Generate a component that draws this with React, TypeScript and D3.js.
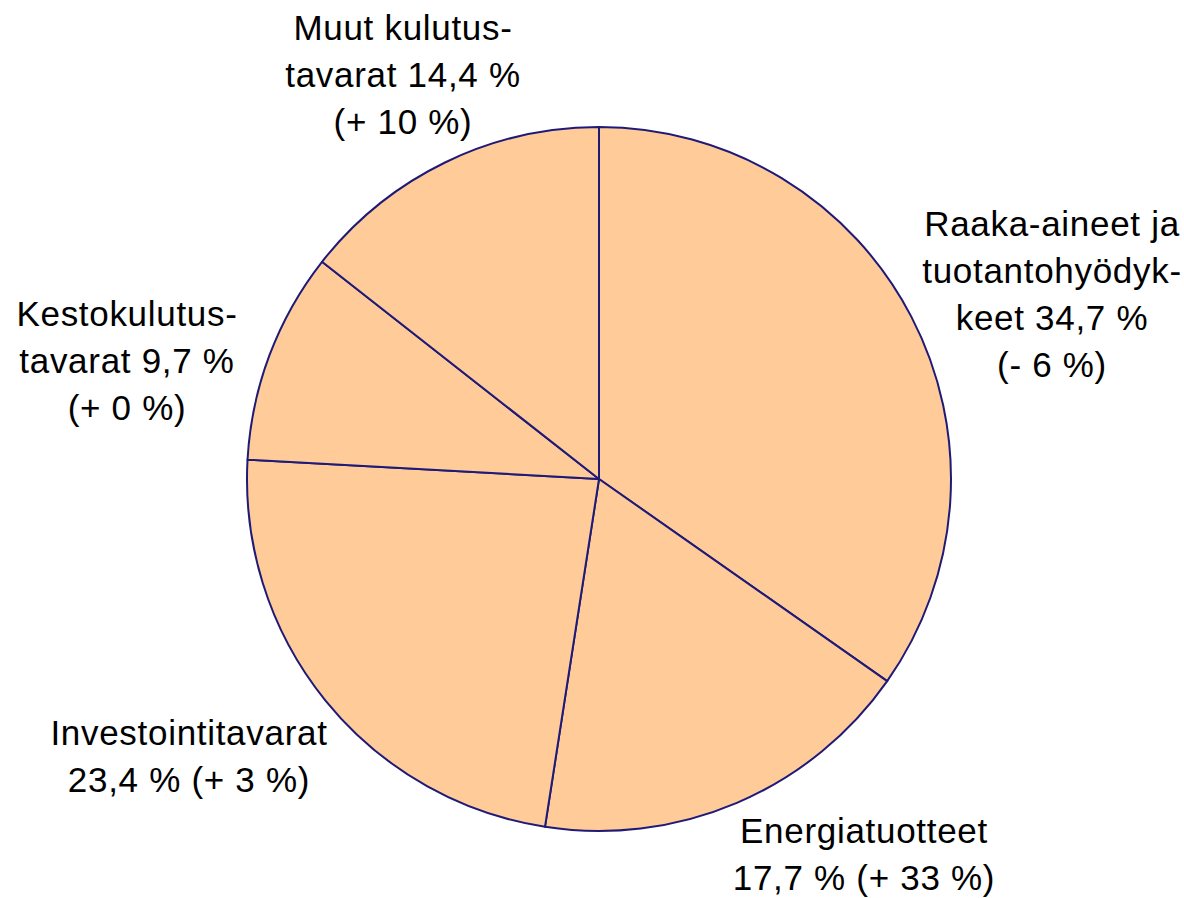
import React, { useRef, useEffect } from 'react';
import * as d3 from 'd3';

// shares of imports by category, clockwise from 12 o'clock
const categories = [
  'Raaka-aineet ja tuotantohyödykkeet',
  'Energiatuotteet',
  'Investointitavarat',
  'Kestokulutustavarat',
  'Muut kulutustavarat',
];
const shares = [34.7, 17.7, 23.4, 9.7, 14.4];
const changes = ['- 6', '+ 33', '+ 3', '+ 0', '+ 10'];

// label lines as they are broken in the picture
const labelLines = [
  ['Raaka-aineet ja', 'tuotantohyödyk-', 'keet 34,7 %', '(- 6 %)'],
  ['Energiatuotteet', '17,7 % (+ 33 %)'],
  ['Investointitavarat', '23,4 % (+ 3 %)'],
  ['Kestokulutus-', 'tavarat 9,7 %', '(+ 0 %)'],
  ['Muut kulutus-', 'tavarat 14,4 %', '(+ 10 %)'],
];

const W = 1184;
const H = 898;

const App: React.FC = () => {
  const svgRef = useRef<SVGSVGElement>(null);

  useEffect(() => {
    if (!svgRef.current) return;
    const svg = d3.select(svgRef.current);
    svg.selectAll('*').remove();

    const cx = 599;
    const cy = 479;
    const radius = 352;

    const data = categories.map((c, i) => ({ name: c, value: shares[i], change: changes[i] }));

    const pie = d3.pie<typeof data[number]>()
      .sort(null)
      .value(d => d.value);

    const arc = d3.arc<d3.PieArcDatum<typeof data[number]>>()
      .innerRadius(0)
      .outerRadius(radius);

    const g = svg.append('g').attr('transform', `translate(${cx},${cy})`);

    g.selectAll('path')
      .data(pie(data))
      .enter()
      .append('path')
      .attr('d', arc)
      .attr('fill', '#FFCC99')
      .attr('stroke', '#1F1A78')
      .attr('stroke-width', 2)
      .attr('stroke-linejoin', 'round');

    // label anchors: centre x and first baseline, hand placed like the original
    const anchors: [number, number][] = [
      [1052, 236],
      [864, 843],
      [189, 745],
      [127, 326],
      [403, 40],
    ];
    const lineH = 47;

    labelLines.forEach((lines, i) => {
      const t = svg.append('text')
        .attr('text-anchor', 'middle')
        .attr('font-family', 'Liberation Sans, Arial, sans-serif')
        .attr('font-size', 35)
        .attr('letter-spacing', 0.7)
        .attr('fill', '#000');
      lines.forEach((l, j) => {
        t.append('tspan')
          .attr('x', anchors[i][0])
          .attr('y', anchors[i][1] + j * lineH)
          .text(l);
      });
    });
  }, []);

  return (
    <svg
      ref={svgRef}
      width={W}
      height={H}
      style={{ position: 'absolute', left: 0, top: 0, background: '#fff' }}
    />
  );
};

export default App;
